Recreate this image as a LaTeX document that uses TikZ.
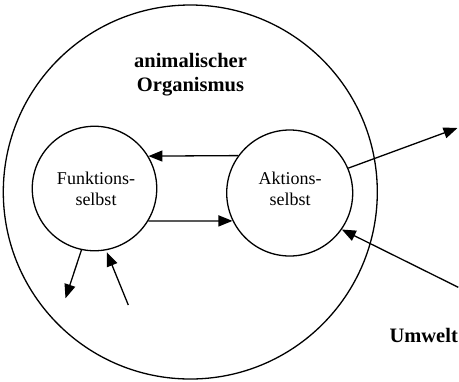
\documentclass[tikz,border=0pt]{standalone}
\usepackage{fontspec}
\setmainfont{Liberation Serif}
\usetikzlibrary{arrows.meta}
\begin{document}
\begin{tikzpicture}[x=1bp,y=-1bp,
  line width=1.3bp,
  ring/.style={draw,circle,inner sep=0pt},
  arr/.style={-{Triangle[length=14bp,width=11bp]}},
  boldlbl/.style={font=\fontsize{20.5bp}{24bp}\selectfont\bfseries,align=center,inner sep=0pt},
  lbl/.style={font=\fontsize{18bp}{20.5bp}\selectfont,align=center,inner sep=0pt}]
\useasboundingbox (0,0) rectangle (459,381);
\node[ring,minimum size=374bp] (org) at (190.3,192) {};
\node[ring,minimum size=124.5bp] (f) at (94.5,188.5) {};
\node[ring,minimum size=126bp] (a) at (289.7,193) {};
\node[boldlbl] (title) at (190.5,75) {animalischer\\Organismus};
\node[lbl] (ft) at (96,189) {Funktions-\\selbst};
\node[lbl] (at) at (290,189) {Aktions-\\selbst};
\node[boldlbl,anchor=east] (umw) at (458.5,335) {Umwelt};
\coordinate (o3) at (65.5,298.3);
\coordinate (i4) at (128.3,305);
\coordinate (o5) at (457.5,128);
\coordinate (i6) at (458.3,287.3);
\draw[arr] (a.144) -- (f.31);
\draw[arr] (f.-31) -- (a.206);
\draw[arr] (f.-102) -- (o3);
\draw[arr] (i4) -- ([shift={(0.3,2)}]f.-79);
\draw[arr] (a.23.4) -- (o5);
\draw[arr] (i6) -- (a.-35.4);
\end{tikzpicture}
\end{document}
